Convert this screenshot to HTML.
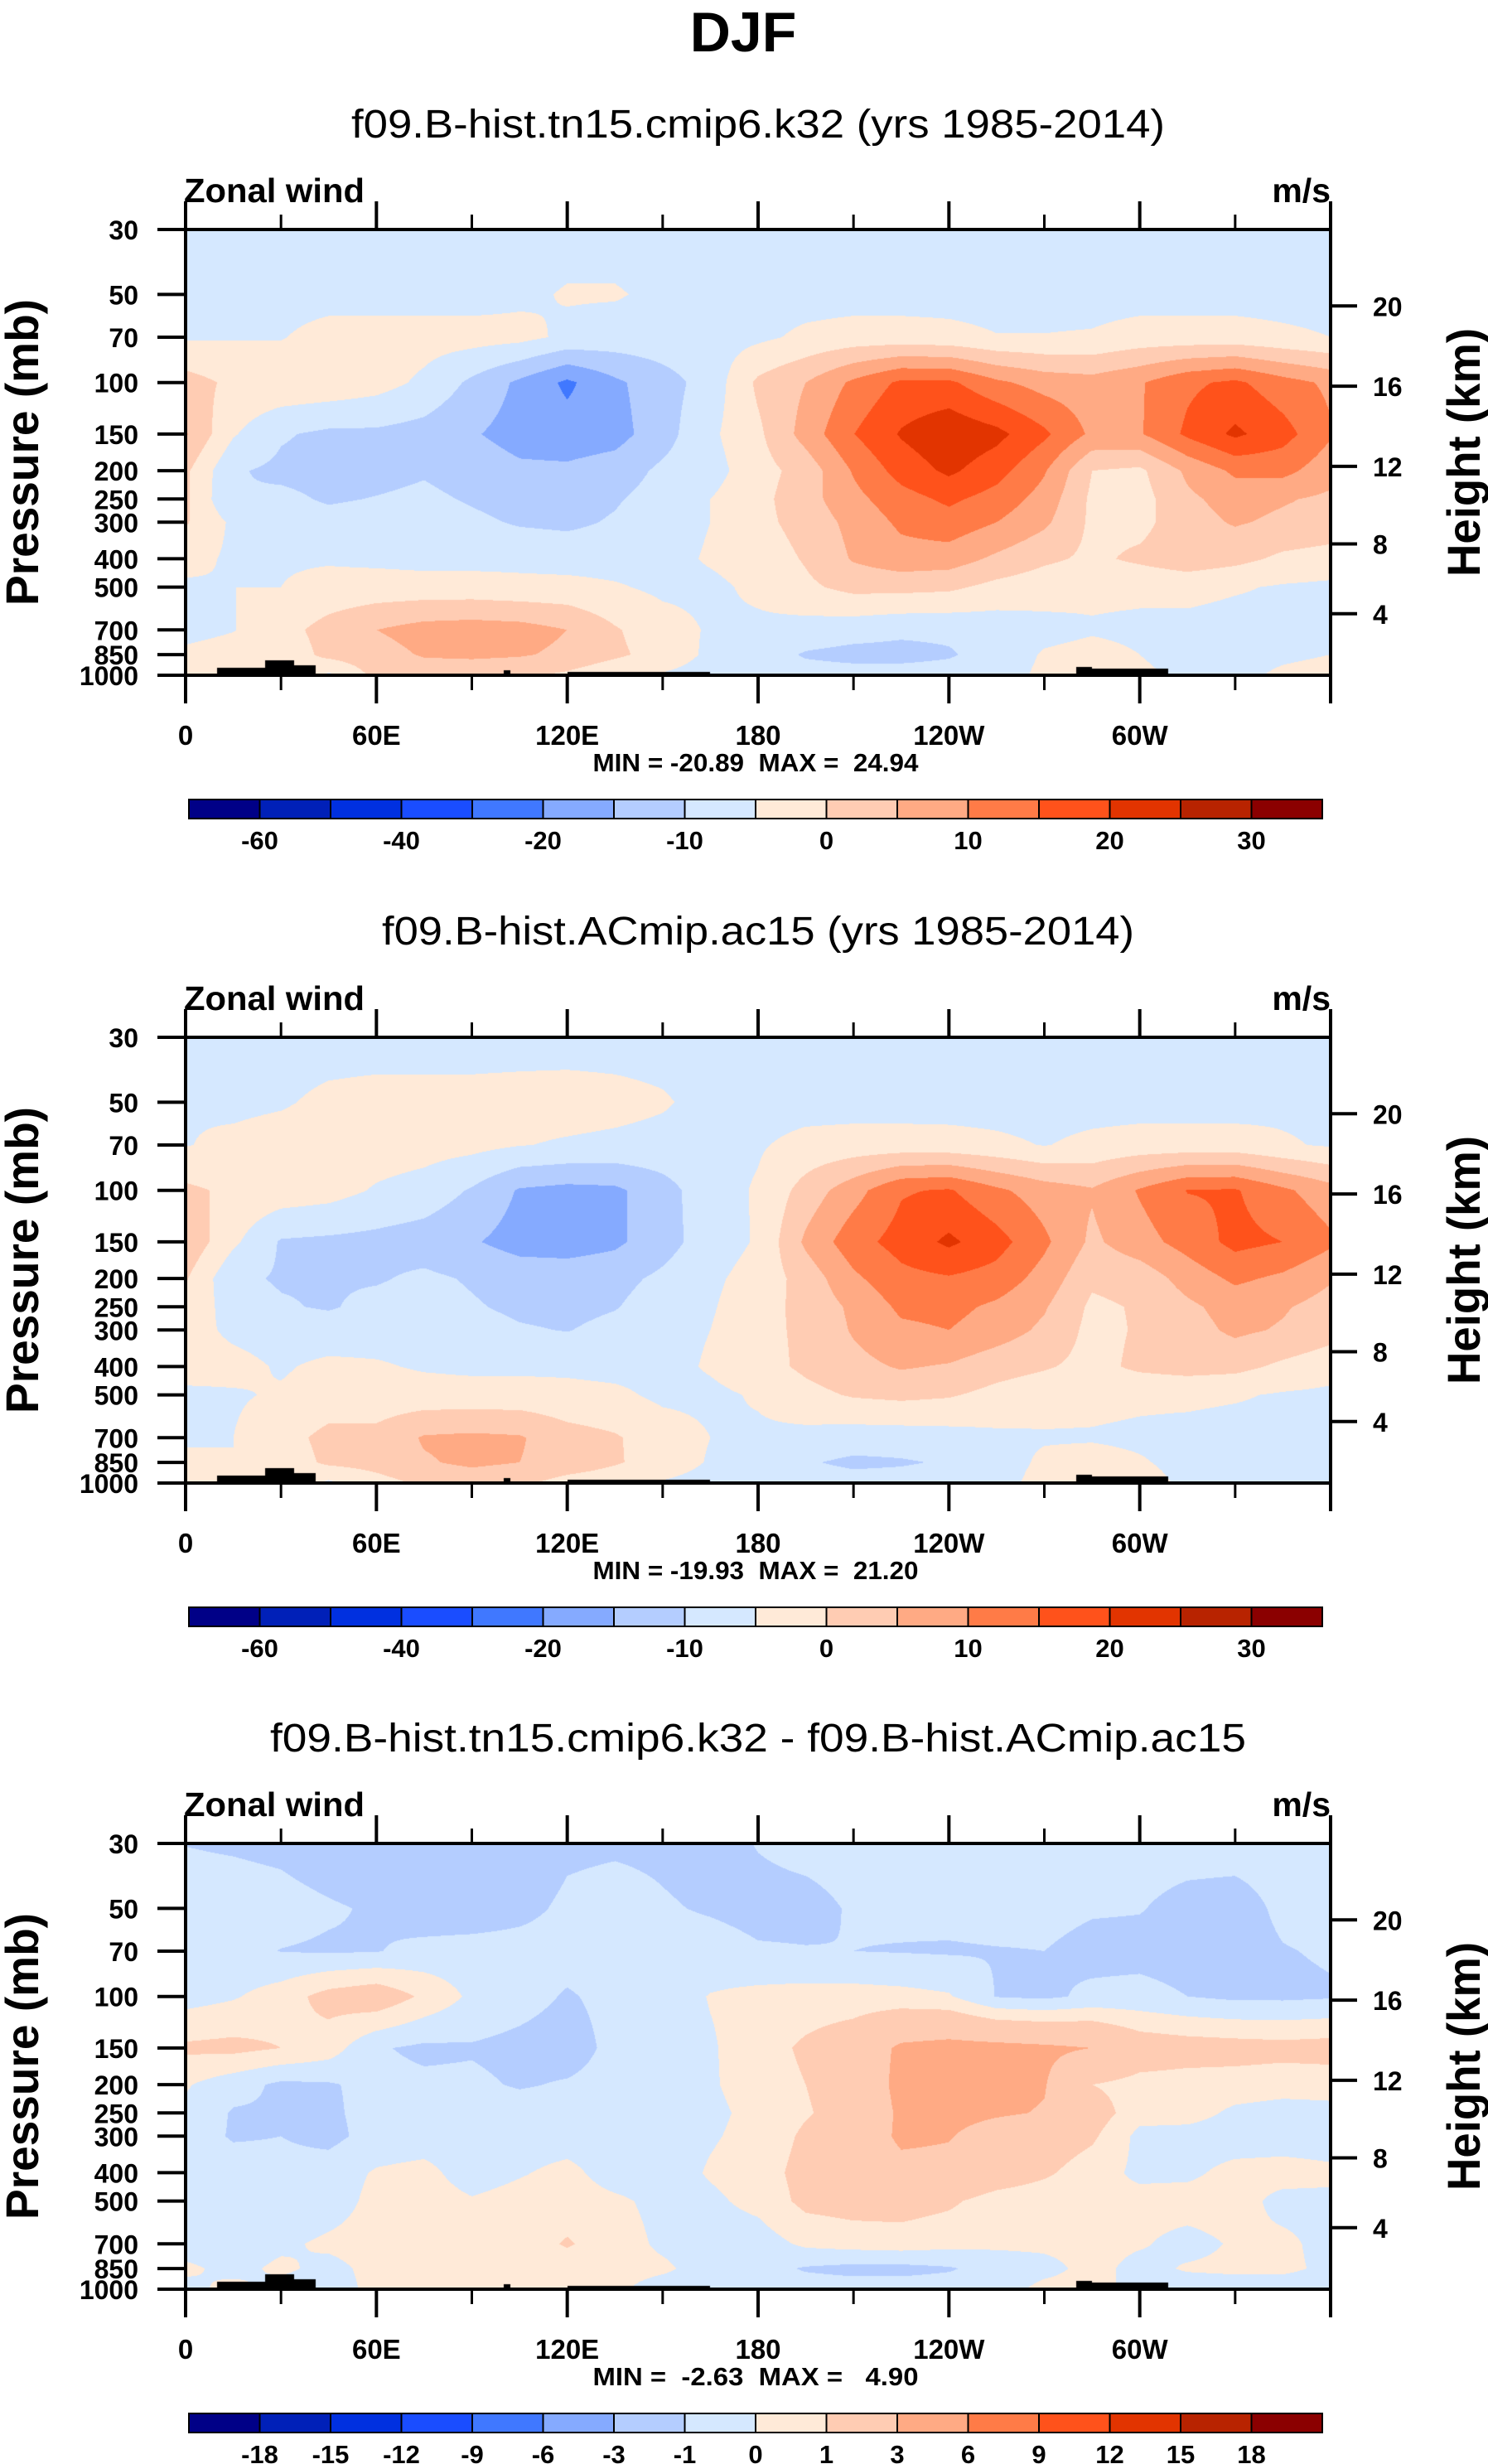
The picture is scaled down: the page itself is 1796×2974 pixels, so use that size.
<!DOCTYPE html>
<html><head><meta charset="utf-8"><style>
html,body{margin:0;padding:0;background:#fff;}
#wrap{position:relative;width:1796px;height:2974px;overflow:hidden;background:#fff;}
canvas{position:absolute;}
svg{position:absolute;left:0;top:0;}
text{font-family:"Liberation Sans",Arial,sans-serif;fill:#000;}
.pre{white-space:pre;}
</style></head><body>
<div id="wrap">
<canvas id="c1" width="1382" height="538" style="left:224px;top:277px"></canvas>
<canvas id="c2" width="1382" height="538" style="left:224px;top:1252px"></canvas>
<canvas id="c3" width="1382" height="538" style="left:224px;top:2225px"></canvas>
<svg id="ov" width="1796" height="2974" xmlns="http://www.w3.org/2000/svg">
<text x="897" y="62" text-anchor="middle" font-size="68" font-weight="bold">DJF</text>
<text x="915" y="166" text-anchor="middle" font-size="48" textLength="982" lengthAdjust="spacingAndGlyphs">f09.B-hist.tn15.cmip6.k32 (yrs 1985-2014)</text>
<text x="915" y="1140" text-anchor="middle" font-size="48" textLength="908" lengthAdjust="spacingAndGlyphs">f09.B-hist.ACmip.ac15 (yrs 1985-2014)</text>
<text x="915" y="2114" text-anchor="middle" font-size="48" textLength="1178" lengthAdjust="spacingAndGlyphs">f09.B-hist.tn15.cmip6.k32 - f09.B-hist.ACmip.ac15</text>
</svg>
</div>
<script>
const lonGrid=[0,15,30,45,60,75,90,105,120,135,150,165,180,195,210,225,240,255,270,285,300,315,330,345,360];
const pLevels=[30,50,70,100,150,200,250,300,400,500,700,850,1000];
const colors=["#000087","#0020b8","#0030e0","#1a4dff","#4078ff","#85aaff","#b4cdff","#d5e8ff","#ffead8","#ffccb3","#ffaa84","#ff7b47","#ff521b","#e23400","#b82300","#8b0000"];
const levels12=[-60,-50,-40,-30,-20,-15,-10,-5,0,5,10,15,20,25,30];
const levels3=[-18,-15,-12,-9,-6,-3,-1,0,1,3,6,9,12,15,18];
const cbLabels12=["-60","-40","-20","-10","0","10","20","30"];
const cbLabelIdx12=[0,2,4,6,8,10,12,14];
const cbLabels3=["-18","-15","-12","-9","-6","-3","-1","0","1","3","6","9","12","15","18"];
const cbLabelIdx3=[0,1,2,3,4,5,6,7,8,9,10,11,12,13,14];
const pTicks=[30,50,70,100,150,200,250,300,400,500,700,850,1000];
const hTicks=[20,16,12,8,4];
const lonMajor=[0,60,120,180,240,300,360];
const lonLabels=["0","60E","120E","180","120W","60W",""];
const lonMinor=[30,90,150,210,270,330];
const terrainStart=[10,25,34,100,120,280,285];
const terrainEnd=[25,34,41,102,165,285,309];
const terrainPs=[946,891,922,962,975,935,950];
const minMax1="MIN = -20.89  MAX =  24.94";
const minMax2="MIN = -19.93  MAX =  21.20";
const minMax3="MIN =  -2.63  MAX =   4.90";

const u1=[
[-7,-7,-7,-7,-7,-7,-7,-7,-7,-7,-7,-7,-7,-7,-7,-7,-7,-7,-7,-7,-7,-7,-7,-7,-7],
[-7,-7,-7,-7,-7,-7,-7,-6,-4.6,-4.6,-6,-7,-7,-7,-7,-7,-7,-7,-7,-7,-7,-7,-7,-7,-7],
[-5.5,-5.3,-5.3,-3,-3,-3,-3,-3.5,-6,-7,-7,-7,-6,-4,-3,-3,-3.5,-4.8,-4.8,-4.5,-3,-3,-3,-4,-5],
[2,-1,-1,-1.5,-3,-6,-11,-16,-21,-16,-12,-8,1,5,11,16,16,11,8,7,9.5,14,16,12,9],
[5.5,-4.5,-9.5,-11,-11,-12,-14.5,-17,-18,-17,-12,-6,-1,7,14.9,20.5,24,21.5,16,9,9.5,16,21,17,10.5],
[1,-9.5,-11,-11.5,-11.5,-10.5,-12,-14,-14,-12.5,-9,-7,-2,2,10.5,17,21,17,10.5,0,-1,6,11,11.5,7],
[1,-10,-9,-10.5,-9.8,-9,-10.5,-12,-12,-10.5,-8,-5,-1.5,3,8.5,13,16,13,8,-1,-2,4,7,5.5,4],
[0.5,-6,-8,-8.5,-8,-7.5,-9,-10.5,-11,-9.5,-7,-5,-1.5,2,6.5,11,13,10,6,-1,-1.5,3,5.5,4,3],
[-3,-6,-5.5,-5.5,-6,-6.5,-6.5,-6.5,-7,-7,-6.5,-4.5,-3,0.5,5.5,8,7.5,4,1,-1,1,3,1.5,-1,-2],
[-6,-5,-5,-3.5,-3,-3,-3,-3.5,-3.5,-4.5,-6,-6,-4,-1,1.5,1.5,1,-1.5,-3,-4,-4,-3.5,-4.5,-5.5,-6],
[-6.5,-5.2,-2,2,5,7,7.5,7,5,0.5,-3,-5.5,-6,-7,-8,-9,-9,-8,-6.5,-5.5,-6,-6.5,-7,-6.5,-6.5],
[-4,-3,-3.5,1.5,3,5.5,6,5.5,4,1,-2,-6,-7.5,-10.5,-11.5,-11.5,-10.5,-8,-4.5,-3.5,-5,-7,-7,-6,-5],
[-2,-1,2,-6,1.5,2,1.5,1,-1,-4,-5.5,-7,-7,-8,-8,-8,-8,-7,-4,-2,-4,-6,-6.5,-4,-3]
];
const u2=[
[-7,-7,-7,-7,-7,-7,-7,-7,-7,-7,-7,-7,-7,-7,-7,-7,-7,-7,-7,-7,-7,-7,-7,-7,-7],
[-5.3,-6,-5.5,-4,-3.5,-3.5,-3.5,-3.2,-3,-3.5,-4.5,-6.5,-7,-7,-7,-7,-7,-7,-7,-7,-7,-7,-7,-6,-6],
[-5.2,-4,-3,-2.5,-2.5,-3,-3.5,-4.8,-5.5,-6,-6.5,-6.5,-5.5,-3.5,-3,-3,-3.2,-4,-5.2,-3.8,-3,-3,-3,-4.5,-5.5],
[1,-1,-2,-3,-5.5,-7,-10.5,-15.5,-16.5,-16,-12,-7,-4.5,2,8,14.5,15.5,11,7.5,5.5,10.5,15.2,15.5,11,7],
[4,-4,-10.5,-11,-11.5,-12.5,-14.5,-17,-17.5,-16,-12,-7.5,-4.5,6,13,17,21,17,11,4,8,12,16.5,15,11],
[0.5,-9,-10.5,-10.5,-10.5,-9,-10.5,-12,-12,-11.5,-9,-6,-3,2,9,13.5,14.5,13,8,1,2,7,11,9,5.5],
[-1,-7.5,-9.5,-10.5,-8.5,-8,-9.5,-11,-11.5,-10.3,-7.5,-5.5,-2,1.5,6,11,11.5,9,5.5,-1,0.5,4,7,5.5,3],
[-3,-6,-7,-7.5,-7,-7,-8,-9.5,-10.2,-8.5,-6.5,-5,-1.5,1,5.5,9,10,7.5,4,-1.5,0.5,3,6,4.5,2],
[-3,-3.5,-5.5,-4,-4.5,-5.5,-6,-6,-6,-6.5,-6.5,-4.5,-2,1,3.5,5.5,4.5,2,0.5,-1.5,1,2,1.5,-1,-3],
[-6,-5.5,-4.5,-3,-3,-3,-3,-3,-3.5,-4,-6,-6,-4.5,-1.5,0.5,1.2,0.5,-1.5,-3,-3.5,-4,-4,-4.5,-5.5,-6],
[-6,-5,-2,1.5,1.5,5.5,6,5.5,2,0.5,-2.5,-5,-5.8,-6.5,-7.5,-7.5,-7,-6,-5.5,-5.5,-6,-6.5,-7,-6.5,-6.5],
[-3.5,-5,-3,1,2,4.5,6,5,3,0.5,-2,-5.5,-7,-9.5,-11,-10.5,-9.5,-7.5,-4,-3,-4.5,-6.5,-6.5,-6,-5.5],
[-3,1,-1,-6,-2,1,2,1,-2,-3,-5.5,-7,-7,-7.5,-8,-8,-7.5,-7,-3,1,-3,-6,-6.5,-6,-6]
];
const u3=[
[-1.02,-1.1,-1.2,-1.5,-1.8,-2,-2,-1.8,-1.2,-1.15,-1.2,-1.4,-0.95,-0.7,-0.6,-0.6,-0.6,-0.6,-0.6,-0.6,-0.6,-0.6,-0.6,-0.6,-0.6],
[-0.6,-0.6,-0.7,-0.9,-1.1,-1.6,-1.6,-1.3,-0.8,-0.6,-0.9,-1.1,-1.3,-1.3,-0.9,-0.8,-0.7,-0.6,-0.7,-0.9,-0.95,-1.3,-1.4,-0.8,-0.6],
[-0.6,-0.8,-1.02,-1.1,-1.05,-0.7,-0.6,-0.6,-0.6,-0.6,-0.6,-0.6,-0.9,-0.95,-1.0,-1.05,-1.1,-1.05,-1.0,-1.3,-1.3,-1.4,-1.4,-1.05,-0.9],
[-0.4,-0.1,0.5,1.4,1.8,0.8,-0.2,-0.6,-1.1,-0.7,-0.5,0.05,0.3,0.4,0.4,0.3,0.1,-1.05,-1.2,-0.8,-0.7,-1.0,-1.2,-1.2,-1.1],
[1.2,1.3,1.0,0.5,-0.9,-1.2,-1.1,-1.3,-1.5,-0.7,-0.5,-0.1,0.5,1.2,1.8,3.3,3.6,3.5,3.3,3.0,1.8,1.6,1.5,1.4,1.5],
[0.1,-0.6,-1.2,-1.1,-0.7,-0.8,-0.8,-1.1,-0.9,-0.6,-0.5,-0.1,0.4,1.0,1.6,3.5,3.6,3.5,3.1,1.0,0.6,0.5,0.5,0.4,0.4],
[-0.2,-1.1,-1.1,-1.2,-0.6,-0.5,-0.5,-0.5,-0.5,-0.5,-0.5,-0.2,0.25,0.9,1.5,3.3,3.5,3.2,2.9,1.6,0.4,0.4,-0.2,-0.4,-0.3],
[-0.5,-1.1,-1.0,-1.3,-0.6,-0.5,-0.5,-0.5,-0.5,-0.5,-0.5,-0.1,0.3,1.2,1.8,3.3,3.1,2.2,1.8,1.2,-0.3,-0.4,-0.5,-0.5,-0.5],
[-0.5,-0.5,-0.7,-0.5,0.1,0.3,-0.5,-0.1,0.3,-0.5,-0.5,0.1,0.5,1.4,2,2.5,2.5,1.8,1.2,0.4,-0.2,-0.2,0.3,0.4,0.2],
[-0.5,-0.5,-0.9,-0.5,0.3,0.5,0.1,0.4,0.5,0.2,-0.3,-0.2,0.3,1.3,1.5,1.5,1.2,0.5,0.3,0.2,0.3,0.4,0.4,-0.3,-0.2],
[-0.5,-0.5,-0.2,0.2,0.4,0.5,0.4,0.5,1.1,0.5,-0.2,-0.5,-0.5,0.2,0.4,0.5,0.3,0.2,0.2,0.3,0.1,-0.3,0.1,0.2,-0.3],
[0.2,-0.3,0.2,-0.3,0.3,0.5,0.5,0.4,0.5,0.4,0.2,-0.5,-0.6,-1.1,-1.3,-1.3,-1.1,-0.6,-0.3,0.3,-0.3,0.1,0.2,0.2,-0.2],
[-0.3,0.3,-0.4,-0.5,0.3,0.5,0.4,0.3,0.2,0.2,-0.5,-0.5,-0.5,-0.5,-0.5,-0.5,-0.5,-0.5,0.3,0.3,-0.3,-0.5,-0.5,-0.5,-0.5]
];

const FX=224, FW=1382, FH=538;
const LN30=Math.log(30), LNR=Math.log(1000/30);
function yOfP(p){return (Math.log(p)-LN30)/LNR*FH;}
function xOfLon(l){return l/360*FW;}
function pOfZ(z){return z<=11?1013.25*Math.pow(1-6.5*z/288.15,5.2559):226.32*Math.exp(-(z-11)/6.3416);}
function hexRGB(h){return [parseInt(h.substr(1,2),16),parseInt(h.substr(3,2),16),parseInt(h.substr(5,2),16)];}
const rgb=colors.map(hexRGB);
const lnP=pLevels.map(Math.log);
function surfP(lon){for(let k=0;k<terrainStart.length;k++){if(lon>=terrainStart[k]&&lon<terrainEnd[k])return terrainPs[k];}return 99999;}

function renderField(id,grid,levels){
  const cv=document.getElementById(id),ctx=cv.getContext('2d');
  const img=ctx.createImageData(FW,FH),d=img.data;
  for(let py=0;py<FH;py++){
    const lp=LN30+(py+0.5)/FH*LNR, p=Math.exp(lp);
    let j=0;while(j<lnP.length-2&&lp>lnP[j+1])j++;
    const t=Math.min(1,Math.max(0,(lp-lnP[j])/(lnP[j+1]-lnP[j])));
    for(let px=0;px<FW;px++){
      const lon=(px+0.5)/FW*360;
      let i=Math.min(lonGrid.length-2,Math.floor(lon/15));
      const s=(lon-lonGrid[i])/(lonGrid[i+1]-lonGrid[i]);
      const v=(1-t)*((1-s)*grid[j][i]+s*grid[j][i+1])+t*((1-s)*grid[j+1][i]+s*grid[j+1][i+1]);
      let ci=0;for(let k=0;k<levels.length;k++){if(v>=levels[k])ci=k+1;}
      let c=rgb[ci];
      if(p>surfP(lon))c=[0,0,0];
      const o=(py*FW+px)*4;d[o]=c[0];d[o+1]=c[1];d[o+2]=c[2];d[o+3]=255;
    }
  }
  ctx.putImageData(img,0,0);
}
renderField('c1',u1,levels12);
renderField('c2',u2,levels12);
renderField('c3',u3,levels3);

const NS="http://www.w3.org/2000/svg";
const ov=document.getElementById('ov');
function mk(tag,attrs,parent){const e=document.createElementNS(NS,tag);for(const k in attrs)e.setAttribute(k,attrs[k]);(parent||ov).appendChild(e);return e;}

function panel(n,top,minmax,cbLabels,cbIdx){
  const g=mk('g',{});
  
  
  const fr=mk('rect',{x:FX,y:top,width:FW,height:FH,fill:'none',stroke:'#000','stroke-width':4},g);
  
  
  const zt=mk('text',{x:FX-2,y:top-33,'font-size':41,'font-weight':'bold',textLength:218,lengthAdjust:'spacingAndGlyphs'},g);
  zt.textContent='Zonal wind';
  
  
  const un=mk('text',{x:FX+FW,y:top-33,'font-size':41,'font-weight':'bold','text-anchor':'end'},g);
  un.textContent='m/s';
  
  
  pTicks.forEach(pv=>{
    const y=top+yOfP(pv);
    const tk=mk('line',{x1:FX-34,x2:FX,y1:y,y2:y,stroke:'#000','stroke-width':4},g);
    
    
    const tl=mk('text',{x:167,y:y+12,'font-size':32,'font-weight':'bold','text-anchor':'end'},g);
    tl.textContent=String(pv);
    
    
  });
  hTicks.forEach(z=>{
    const y=top+yOfP(pOfZ(z));
    const tk=mk('line',{x1:FX+FW,x2:FX+FW+32,y1:y,y2:y,stroke:'#000','stroke-width':4},g);
    
    
    const tl=mk('text',{x:1657,y:y+12,'font-size':32,'font-weight':'bold'},g);
    tl.textContent=String(z);
    
    
  });
  lonMajor.forEach((l,k)=>{
    const x=FX+xOfLon(l);
    const tb=mk('line',{x1:x,x2:x,y1:top+FH,y2:top+FH+34,stroke:'#000','stroke-width':4},g);
    
    
    const tt=mk('line',{x1:x,x2:x,y1:top-34,y2:top,stroke:'#000','stroke-width':4},g);
    
    
    if(lonLabels[k]){
      const tl=mk('text',{x:x,y:top+FH+84,'font-size':33,'font-weight':'bold','text-anchor':'middle'},g);
      tl.textContent=lonLabels[k];
      
      
    }
  });
  lonMinor.forEach(l=>{
    const x=FX+xOfLon(l);
    const tb=mk('line',{x1:x,x2:x,y1:top+FH,y2:top+FH+18,stroke:'#000','stroke-width':3},g);
    
    
    const tt=mk('line',{x1:x,x2:x,y1:top-18,y2:top,stroke:'#000','stroke-width':3},g);
    
    
  });
  const yl=mk('text',{x:0,y:0,'font-size':56,'font-weight':'bold','text-anchor':'middle',textLength:370,lengthAdjust:'spacingAndGlyphs',transform:'translate(46,'+(top+FH/2)+') rotate(-90)'},g);
  yl.textContent='Pressure (mb)';
  
  
  const hl=mk('text',{x:0,y:0,'font-size':56,'font-weight':'bold','text-anchor':'middle',textLength:300,lengthAdjust:'spacingAndGlyphs',transform:'translate(1786,'+(top+FH/2)+') rotate(-90)'},g);
  hl.textContent='Height (km)';
  
  
  const mm=mk('text',{x:912,y:top+FH+116,'font-size':31,'font-weight':'bold','text-anchor':'middle',textLength:393,lengthAdjust:'spacingAndGlyphs','class':'pre'},g);
  mm.textContent=minmax;
  
  
  const cbY=top+688, cbX=228, cbW=1368, cbH=23, bw=cbW/colors.length;
  colors.forEach((c,k)=>{
    const r=mk('rect',{x:cbX+k*bw,y:cbY,width:bw,height:cbH,fill:c,stroke:'#000','stroke-width':2},g);
    
    
  });
  cbLabels.forEach((lab,k)=>{
    const x=cbX+(cbIdx[k]+1)*bw;
    const t=mk('text',{x:x,y:cbY+cbH+37,'font-size':31,'font-weight':'bold','text-anchor':'middle'},g);
    t.textContent=lab;
    
    
  });
}
panel(1,277,minMax1,cbLabels12,cbLabelIdx12);
panel(2,1252,minMax2,cbLabels12,cbLabelIdx12);
panel(3,2225,minMax3,cbLabels3,cbLabelIdx3);
</script>
</body></html>
